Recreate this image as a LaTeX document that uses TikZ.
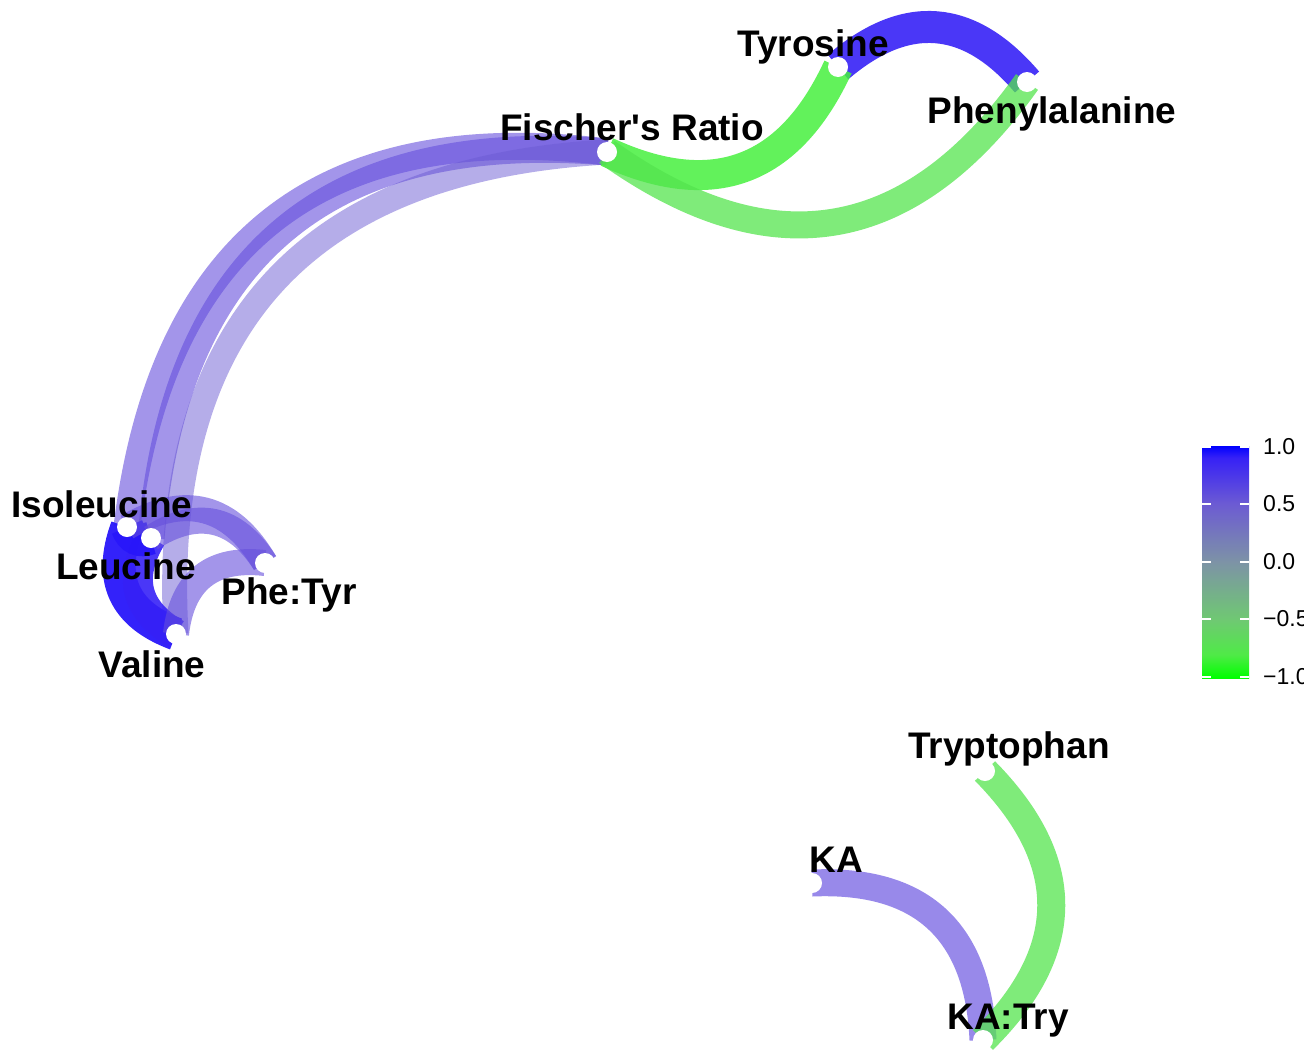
\documentclass[tikz,border=0pt]{standalone}
\usepackage{fontspec}
\setmainfont{Liberation Sans}
\usetikzlibrary{calc}
\definecolor{cBa}{RGB}{40,22,250}
\definecolor{cBb}{RGB}{54,33,246}
\definecolor{cPa}{RGB}{97,74,223}
\definecolor{cPb}{RGB}{101,79,220}
\definecolor{cPc}{RGB}{108,91,211}
\definecolor{cGa}{RGB}{70,240,62}
\definecolor{cGb}{RGB}{84,228,78}
\pgfdeclareverticalshading{corrbar}{100bp}{rgb(0bp)=(0,1,0); rgb(25bp)=(0,1,0); rgb(30bp)=(0.31,0.918,0.278); rgb(37.5bp)=(0.435,0.788,0.447); rgb(50bp)=(0.49,0.576,0.651); rgb(62.5bp)=(0.424,0.357,0.827); rgb(72.5bp)=(0.212,0.129,0.965); rgb(75bp)=(0,0,1); rgb(100bp)=(0,0,1)}
\tikzset{
  corr/.style={line cap=butt},
  dotnode/.style={circle, fill=white, inner sep=0pt, minimum size=20pt},
  lbl/.style={font=\bfseries\fontsize{37}{40}\selectfont, anchor=base, inner sep=0pt},
  legtick/.style={white, line width=1.3pt},
  leglbl/.style={font=\fontsize{23}{26}\selectfont, anchor=west, inner sep=0pt}
}
\newcommand{\corredge}[5]{%
  \coordinate (em) at ($(#1)!0.5!(#2)$);
  \coordinate (ec) at ($(em)!1!90:(#2)$);
  \draw[corr, draw=#3, line width=#4pt, draw opacity=#5] (#1) .. controls ($(#1)!0.6667!(ec)$) and ($(#2)!0.6667!(ec)$) .. (#2);}
\begin{document}
\begin{tikzpicture}[x=1pt,y=-1pt]
\useasboundingbox (0,0) rectangle (1304,1055);
% node positions
\coordinate (tyr) at (838,67);
\coordinate (phe) at (1027,82);
\coordinate (fis) at (607,152);
\coordinate (iso) at (127,527);
\coordinate (leu) at (151,538);
\coordinate (val) at (176,634);
\coordinate (pt)  at (265,563);
\coordinate (trp) at (985,771);
\coordinate (ka)  at (812,883);
\coordinate (kat) at (983,1040);
% edges
\corredge{iso}{fis}{cPb}{27}{0.6}
\corredge{leu}{fis}{cPb}{27}{0.6}
\corredge{val}{fis}{cPc}{25}{0.5}
\corredge{tyr}{phe}{cBb}{32}{0.9}
\corredge{tyr}{fis}{cGa}{30}{0.85}
\corredge{phe}{fis}{cGb}{27}{0.75}
\corredge{val}{iso}{cBa}{33}{0.95}
\corredge{val}{leu}{cBb}{30}{0.9}
\corredge{leu}{iso}{cBa}{33}{0.95}
\corredge{iso}{pt}{cPb}{26}{0.6}
\corredge{leu}{pt}{cPb}{26}{0.6}
\corredge{val}{pt}{cPb}{26}{0.6}
\corredge{ka}{kat}{cPa}{27}{0.65}
\corredge{trp}{kat}{cGb}{28}{0.75}
% node dots
\foreach \n in {tyr,phe,fis,iso,leu,val,pt,trp,ka,kat}
  \node[dotnode] (d\n) at (\n) {};
% labels
\node[lbl] (ltyr) at (813,56) {Tyrosine};
\node[lbl] (lphe) at (1052,123) {Phenylalanine};
\node[lbl] (lfis) at (632,140) {Fischer\textquotesingle s Ratio};
\node[lbl] (liso) at (102,517) {Isoleucine};
\node[lbl] (lleu) at (126,579) {Leucine};
\node[lbl] (lpt)  at (289,604) {Phe:Tyr};
\node[lbl] (lval) at (152,677) {Valine};
\node[lbl] (ltrp) at (1009,758) {Tryptophan};
\node[lbl] (lka)  at (836,872) {KA};
\node[lbl] (lkat) at (1008,1029) {KA:Try};
% legend
\shade[shading=corrbar] (1202,446) rectangle (1249,678);
\foreach \yy/\t [count=\i] in {447/1.0, 504/0.5, 562/0.0, 619/−0.5, 677/−1.0}{
  \draw[legtick] (1202,\yy) -- (1211,\yy);
  \draw[legtick] (1240,\yy) -- (1249,\yy);
  \node[leglbl] (leg\i) at (1263,\yy) {\t};
}
\end{tikzpicture}
\end{document}
